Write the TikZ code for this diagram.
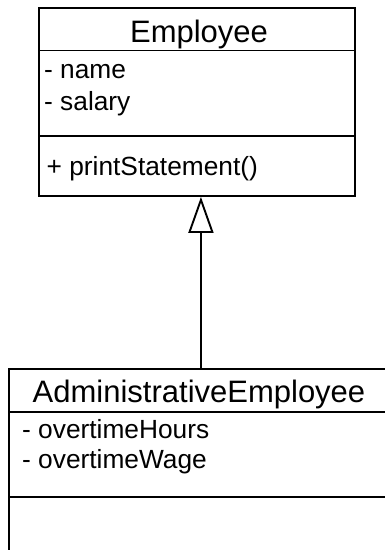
\documentclass[tikz,border=0pt]{standalone}
\usepackage{fontspec}
\setmainfont{Liberation Sans}
\usetikzlibrary{arrows.meta}
\tikzset{
  classbox/.style={draw=black, line width=1.9pt, rectangle, inner sep=0pt, anchor=north west},
  titletext/.style={inner sep=0pt, anchor=base, font=\fontsize{31}{31}\selectfont},
  membertext/.style={inner sep=0pt, anchor=base west, font=\fontsize{26.3}{26}\selectfont},
  divider/.style={line width=1.9pt},
  inherit/.style={line width=1.9pt, -{Triangle[open, width=25pt, length=36pt]}}
}
\begin{document}
\begin{tikzpicture}[x=1pt, y=-1pt]
\useasboundingbox (0,0) rectangle (385,550);
\clip (0,0) rectangle (385,550);
% Employee class
\node[classbox, minimum width=316pt, minimum height=188pt] (emp) at (38,7) {};
\coordinate (empd1w) at (38,50.5);
\coordinate (empd1e) at (354,50.5);
\coordinate (empd2w) at (38,136);
\coordinate (empd2e) at (354,136);
\draw[divider] (empd1w) -- (empd1e);
\draw[divider] (empd2w) -- (empd2e);
\node[titletext] (empname) at (199,42) {Employee};
\node[membertext] (empa1) at (44,78) {- name};
\node[membertext] (empa2) at (44,110) {- salary};
\node[membertext] (empm1) at (46.5,175) {+ printStatement()};
% AdministrativeEmployee class
\node[classbox, minimum width=384pt, minimum height=200pt] (adm) at (8,368) {};
\coordinate (admd1w) at (8,412);
\coordinate (admd1e) at (392,412);
\coordinate (admd2w) at (8,497);
\coordinate (admd2e) at (392,497);
\draw[divider] (admd1w) -- (admd1e);
\draw[divider] (admd2w) -- (admd2e);
\node[titletext] (admname) at (199,402) {AdministrativeEmployee};
\node[membertext] (adma1) at (22,438) {- overtimeHours};
\node[membertext] (adma2) at (22,468) {- overtimeWage};
% inheritance
\draw[inherit] (adm.north) -- (adm.north |- emp.south);
\end{tikzpicture}
\end{document}
